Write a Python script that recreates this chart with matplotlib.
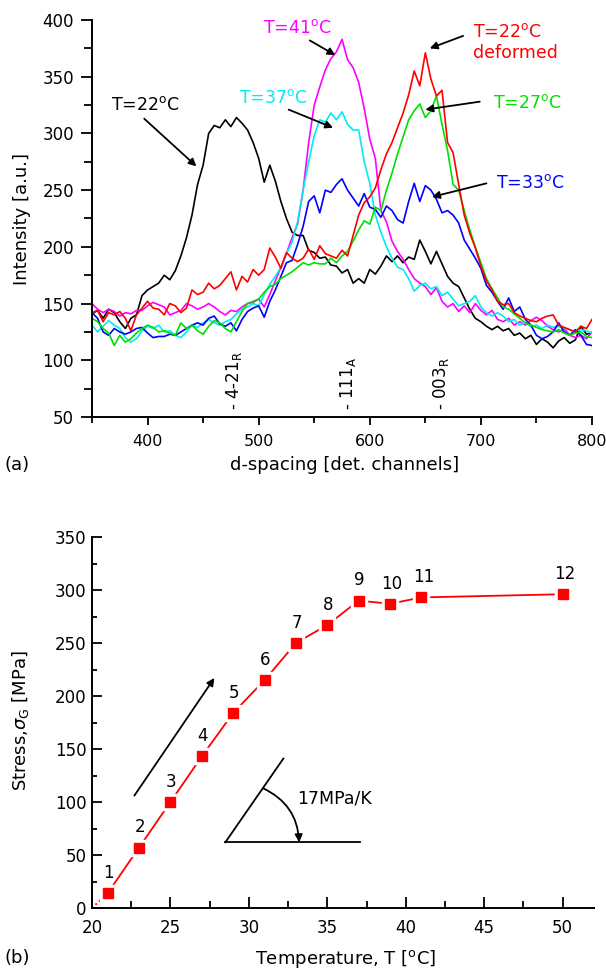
import numpy as np
import matplotlib
matplotlib.use('Agg')
import matplotlib.pyplot as plt
from matplotlib.ticker import MultipleLocator
from matplotlib.patches import FancyArrowPatch

plt.rcParams['font.family'] = ['DejaVu Sans']
plt.rcParams['mathtext.fontset'] = 'dejavusans'

# ---------------- data: panel (a) ----------------
channels = list(range(350, 801, 5))

int_22 = [141, 144, 137, 145, 142, 134, 128, 137, 140, 157,
          162, 165, 168, 175, 171, 179, 192, 208, 228, 255,
          272, 300, 307, 305, 312, 306, 314, 309, 303, 292,
          278, 257, 272, 258, 240, 225, 213, 210, 210, 197,
          195, 190, 191, 184, 183, 177, 180, 168, 172, 168,
          180, 176, 183, 192, 187, 192, 186, 191, 189, 206,
          196, 185, 196, 185, 174, 168, 165, 155, 145, 137,
          134, 130, 127, 130, 126, 128, 122, 124, 119, 122,
          114, 119, 116, 111, 117, 120, 115, 118, 130, 123,
          124]
int_41 = [150, 145, 142, 145, 143, 139, 142, 141, 144, 144,
          148, 151, 149, 147, 140, 142, 144, 150, 148, 145,
          147, 150, 147, 143, 140, 144, 143, 147, 150, 151,
          154, 147, 158, 170, 182, 194, 208, 220, 250, 292,
          325, 341, 356, 366, 372, 383, 365, 358, 345, 322,
          295, 278, 232, 222, 205, 196, 189, 180, 172, 168,
          165, 158, 164, 152, 147, 150, 143, 148, 142, 150,
          144, 140, 144, 136, 134, 137, 131, 134, 131, 135,
          138, 135, 130, 127, 125, 128, 122, 120, 122, 119,
          125]
int_37 = [131, 125, 130, 135, 131, 128, 120, 116, 119, 126,
          130, 128, 131, 125, 126, 122, 120, 125, 131, 129,
          133, 136, 133, 131, 134, 136, 141, 145, 147, 150,
          148, 158, 167, 174, 182, 194, 204, 222, 250, 275,
          298, 312, 310, 318, 312, 319, 308, 303, 303, 275,
          256, 228, 213, 200, 190, 182, 180, 172, 161, 166,
          168, 163, 165, 157, 160, 154, 148, 150, 152, 157,
          147, 142, 139, 142, 139, 134, 136, 131, 133, 130,
          131, 128, 131, 129, 130, 128, 127, 125, 127, 126,
          124]
int_33 = [142, 137, 125, 122, 128, 125, 123, 125, 128, 129,
          124, 120, 121, 121, 123, 122, 125, 128, 131, 133,
          131, 137, 139, 132, 130, 133, 126, 136, 143, 146,
          148, 138, 152, 162, 174, 186, 188, 202, 218, 240,
          245, 230, 250, 248, 255, 260, 250, 243, 236, 247,
          235, 233, 226, 236, 232, 224, 221, 240, 256, 240,
          254, 250, 242, 230, 232, 228, 221, 206, 198, 190,
          181, 166, 160, 152, 145, 155, 143, 147, 136, 131,
          122, 119, 121, 125, 133, 125, 122, 127, 122, 114,
          113]
int_27 = [137, 134, 128, 124, 113, 122, 116, 119, 124, 128,
          131, 129, 125, 126, 124, 122, 133, 128, 131, 126,
          123, 130, 135, 133, 128, 125, 134, 143, 150, 152,
          154, 160, 165, 167, 172, 175, 178, 182, 186, 184,
          186, 185, 185, 190, 186, 192, 196, 205, 215, 223,
          220, 235, 232, 250, 265, 282, 297, 312, 320, 326,
          314, 320, 333, 308, 285, 255, 250, 232, 215, 200,
          186, 172, 163, 155, 147, 145, 141, 137, 133, 131,
          129, 127, 126, 125, 127, 124, 122, 124, 125, 121,
          120]
int_22def = [142, 144, 134, 142, 140, 143, 137, 126, 140, 146,
             152, 146, 145, 140, 150, 148, 142, 146, 162, 158,
             160, 168, 163, 166, 172, 178, 162, 174, 169, 180,
             175, 180, 199, 191, 181, 195, 190, 187, 190, 198,
             189, 201, 194, 192, 190, 197, 192, 210, 228, 239,
             244, 252, 268, 282, 292, 305, 318, 334, 355, 342,
             371, 348, 333, 338, 292, 283, 255, 228, 212, 199,
             183, 170, 162, 152, 149, 150, 142, 139, 137, 135,
             134, 137, 139, 140, 131, 129, 127, 125, 130, 128,
             136]

series_a = [
    (int_22, 'black'),
    (int_41, '#ff00ff'),
    (int_37, '#00ecf4'),
    (int_33, '#0000ff'),
    (int_27, '#00e000'),
    (int_22def, '#ff0000'),
]

peak_labels = [r'- 4-21$_{\rm R}$', r'- 111$_{\rm A}$', r'- 003$_{\rm R}$']
peak_pos = [478, 580, 664]

# ---------------- data: panel (b) ----------------
temps = [21, 23, 25, 27, 29, 31, 33, 35, 37, 39, 41, 50]
stress = [14, 57, 100, 143, 184, 215, 250, 267, 290, 287, 293, 296]
point_labels = ['1', '2', '3', '4', '5', '6', '7', '8', '9', '10', '11', '12']

W, H = 606, 972
fig = plt.figure(figsize=(W / 100, H / 100), dpi=100)

def box(l, r, t, b):
    return [l / W, 1 - b / H, (r - l) / W, (b - t) / H]

# ================= panel (a) =================
ax1 = fig.add_axes(box(92, 592, 20, 417))
for y, c in series_a:
    ax1.plot(channels, y, color=c, lw=1.2)
ax1.set_xlim(350, 800)
ax1.set_ylim(50, 400)
for s in ['top', 'right']:
    ax1.spines[s].set_visible(False)
for s in ['left', 'bottom']:
    ax1.spines[s].set_linewidth(1.4)
ax1.xaxis.set_major_locator(MultipleLocator(100))
ax1.xaxis.set_minor_locator(MultipleLocator(50))
ax1.yaxis.set_major_locator(MultipleLocator(50))
ax1.yaxis.set_minor_locator(MultipleLocator(25))
ax1.tick_params(axis='x', which='major', direction='out', length=6, width=1.3, labelsize=11.5, pad=6)
ax1.tick_params(axis='x', which='minor', direction='out', length=4, width=1.3)
ax1.tick_params(axis='y', which='major', direction='out', length=8, width=1.3, labelsize=12, pad=5)
ax1.tick_params(axis='y', which='minor', direction='out', length=6, width=1.3)
ax1.set_xlabel('d-spacing [det. channels]', fontsize=13)
ax1.set_ylabel('Intensity [a.u.]', fontsize=13)
ax1.xaxis.set_label_coords(0.506, -0.098)
ax1.yaxis.set_label_coords(-0.122, 0.5)

for lab, xp in zip(peak_labels, peak_pos):
    ax1.text(xp, 56, lab, rotation=90, ha='center', va='bottom', fontsize=12)

arrow_kw = dict(arrowstyle='-|>', color='black', lw=1.3, mutation_scale=11,
                shrinkA=0, shrinkB=0)
# (text, color, text x, text y, ha, arrow start, arrow end)
notes_a = [
    ('T=22$^{\\rm o}$C', 'black', 398, 325, 'center', (397, 313), (444, 271)),
    ('T=41$^{\\rm o}$C', '#ff00ff', 535, 393, 'center', (546, 382), (569, 369)),
    ('T=37$^{\\rm o}$C', '#00ecf4', 513, 331, 'center', (527, 321), (567, 305)),
    ('T=22$^{\\rm o}$C\ndeformed', '#ff0000', 693, 380, 'left', (684, 386), (654, 375)),
    ('T=27$^{\\rm o}$C', '#00e000', 711, 327, 'left', (699, 328), (650, 321)),
    ('T=33$^{\\rm o}$C', '#0000ff', 714, 256, 'left', (705, 256), (656, 244)),
]
for txt, c, tx, ty, ha, a0, a1 in notes_a:
    ax1.text(tx, ty, txt, color=c, fontsize=12.5, ha=ha, va='center', linespacing=1.25)
    ax1.annotate('', xy=a1, xytext=a0, arrowprops=arrow_kw)

fig.text(4 / W, 1 - 465 / H, '(a)', fontsize=13, ha='left', va='center')

# ================= panel (b) =================
ax2 = fig.add_axes(box(92, 594, 537, 908))
ax2.plot(temps, stress, color='red', lw=1.3, zorder=2)
ax2.plot([20, temps[0]], [0, stress[0]], color='red', lw=1.3, ls=':', zorder=2)
ax2.plot(temps, stress, ls='none', marker='s', ms=11, color='white', zorder=3)
ax2.plot(temps, stress, ls='none', marker='s', ms=7.5, color='red', zorder=4)
for t, s, lab in zip(temps, stress, point_labels):
    ax2.annotate(lab, (t, s), xytext=(1.5 if len(lab) > 1 else 0.5, 8),
                 textcoords='offset points', ha='center', va='bottom', fontsize=12)
ax2.set_xlim(20, 52)
ax2.set_ylim(0, 350)
for s in ['top', 'right']:
    ax2.spines[s].set_visible(False)
for s in ['left', 'bottom']:
    ax2.spines[s].set_linewidth(1.4)
ax2.xaxis.set_major_locator(MultipleLocator(5))
ax2.xaxis.set_minor_locator(MultipleLocator(2.5))
ax2.yaxis.set_major_locator(MultipleLocator(50))
ax2.yaxis.set_minor_locator(MultipleLocator(25))
ax2.tick_params(axis='x', which='major', direction='in', length=8, width=1.3, labelsize=12, pad=8)
ax2.tick_params(axis='x', which='minor', direction='in', length=5, width=1.3)
ax2.tick_params(axis='y', which='major', direction='in', length=7, width=1.3, labelsize=12, pad=4)
ax2.tick_params(axis='y', which='minor', direction='in', length=3.5, width=1.3)
ax2.set_xlabel('Temperature, T [$^{\\rm o}$C]', fontsize=13)
ax2.set_ylabel('Stress,$\\sigma_{\\rm G}$ [MPa]', fontsize=13)
ax2.xaxis.set_label_coords(0.505, -0.108)
ax2.yaxis.set_label_coords(-0.122, 0.505)

# direction arrow
ax2.annotate('', xy=(27.8, 217), xytext=(22.7, 106),
             arrowprops=dict(arrowstyle='-|>', color='black', lw=1.3,
                             mutation_scale=11, shrinkA=0, shrinkB=0))
# slope triangle
ax2.plot([28.5, 37.1], [62, 62], color='black', lw=1.3)
ax2.plot([28.5, 32.2], [62, 141], color='black', lw=1.3)
arc = FancyArrowPatch((30.9, 113), (33.2, 62), connectionstyle='arc3,rad=-0.3',
                      arrowstyle='-|>', color='black', lw=1.3, mutation_scale=11,
                      shrinkA=0, shrinkB=0)
ax2.add_patch(arc)
ax2.text(33.1, 103, '17MPa/K', fontsize=12.5, ha='left', va='center')

fig.text(4 / W, 1 - 958 / H, '(b)', fontsize=13, ha='left', va='center')

fig.savefig('out.png', dpi=100)
